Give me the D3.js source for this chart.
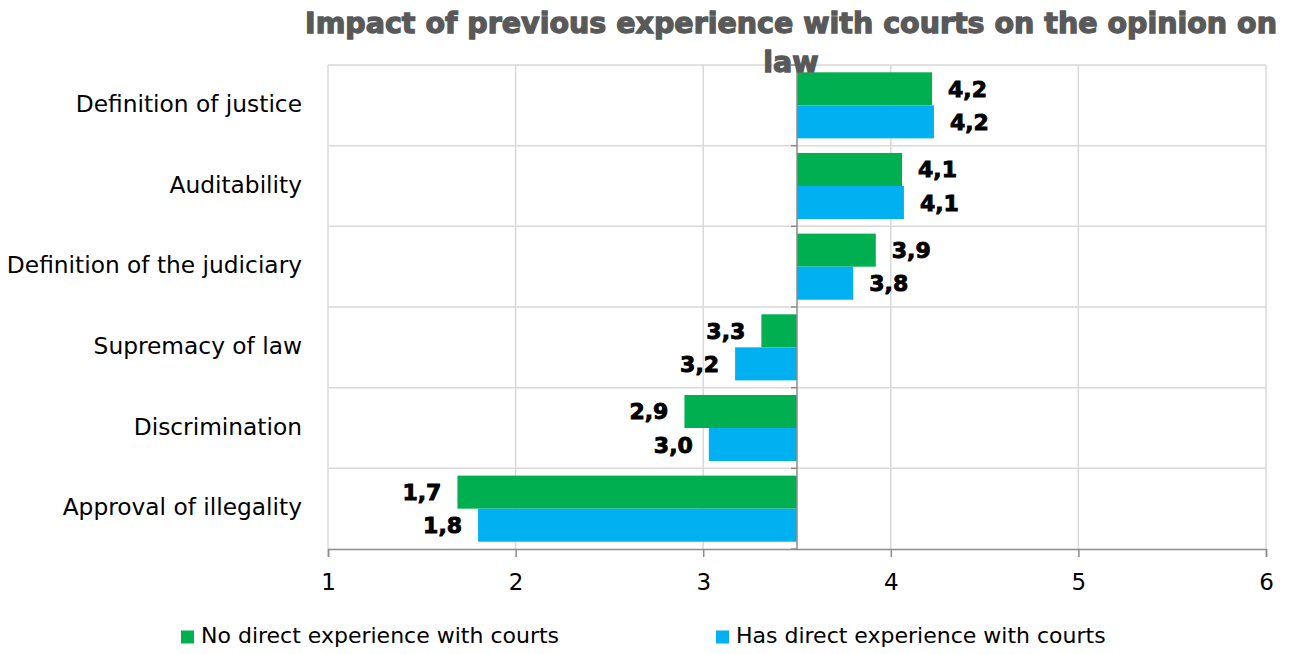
<!DOCTYPE html>
<html>
<head>
<meta charset="utf-8">
<script src="https://cdn.jsdelivr.net/npm/d3@7"></script>
<style>
  html, body { margin: 0; padding: 0; background: #ffffff; }
  svg { display: block; }
</style>
</head>
<body>
<svg id="chart" width="1296" height="654"></svg>
<script>
// Survey scores by topic, split by whether respondents had direct contact with courts
const categories = [
  "Definition of justice",
  "Auditability",
  "Definition of the judiciary",
  "Supremacy of law",
  "Discrimination",
  "Approval of illegality"
];
const seriesNames = ["No direct experience with courts", "Has direct experience with courts"];
const noExperience  = [4.22, 4.06, 3.92, 3.31, 2.90, 1.69];
const hasExperience = [4.23, 4.07, 3.80, 3.17, 3.03, 1.80];
const xTicks = [1, 2, 3, 4, 5, 6];
const baseline = 3.5;
const colors = ["#00B050", "#00B0F0"];
const titleLines = ["Impact of previous experience with courts on the opinion on", "law"];

const rows = categories.map((c, i) => ({
  category: c,
  values: [
    { key: seriesNames[0], value: noExperience[i] },
    { key: seriesNames[1], value: hasExperience[i] }
  ]
}));

const svg = d3.select("#chart");
const m = { left: 328, right: 1266, top: 65, bottom: 549 };

const x = d3.scaleLinear().domain([1, 6]).range([m.left, m.right]);
const y = d3.scaleBand().domain(categories).range([m.top, m.bottom]).padding(0);
const inner = 7.3;
const y1 = d3.scaleBand().domain(seriesNames).range([inner, y.bandwidth() - inner]).padding(0);
const color = d3.scaleOrdinal().domain(seriesNames).range(colors);

// Gridlines
const grid = svg.append("g").attr("class", "grid");
grid.selectAll("line.v").data(xTicks).join("line")
  .attr("class", "v")
  .attr("x1", d => x(d)).attr("x2", d => x(d))
  .attr("y1", m.top).attr("y2", m.bottom)
  .attr("stroke", "#d9d9d9").attr("stroke-width", 1.5);
const bounds = categories.map(c => y(c));
grid.selectAll("line.h").data(bounds).join("line")
  .attr("class", "h")
  .attr("x1", m.left).attr("x2", m.right)
  .attr("y1", d => d).attr("y2", d => d)
  .attr("stroke", "#d9d9d9").attr("stroke-width", 1.5);

// Bars diverging from the midpoint of the scale
const groups = svg.append("g").selectAll("g").data(rows).join("g")
  .attr("transform", d => `translate(0,${y(d.category)})`);

groups.selectAll("rect").data(d => d.values).join("rect")
  .attr("x", d => Math.min(x(d.value), x(baseline)))
  .attr("y", d => y1(d.key))
  .attr("width", d => Math.abs(x(d.value) - x(baseline)))
  .attr("height", y1.bandwidth())
  .attr("fill", d => color(d.key));

const fmt = v => d3.format(".1f")(v).replace(".", ",");
groups.selectAll("text.val").data(d => d.values).join("text")
  .attr("class", "val")
  .attr("x", d => d.value >= baseline ? x(d.value) + 16 : x(d.value) - 16)
  .attr("y", d => y1(d.key) + y1.bandwidth() / 2 + 2)
  .attr("text-anchor", d => d.value >= baseline ? "start" : "end")
  .attr("dominant-baseline", "middle")
  .attr("font-family", "DejaVu Sans")
  .attr("font-weight", "bold")
  .attr("font-size", 22)
  .attr("fill", "#000")
  .attr("stroke", "#000")
  .attr("stroke-width", 0.9)
  .text(d => fmt(d.value));

// Vertical axis through the midpoint, ticks at category boundaries
const axisColor = "#8c8c8c";
const yAxisG = svg.append("g");
yAxisG.append("line")
  .attr("x1", x(baseline)).attr("x2", x(baseline))
  .attr("y1", m.top).attr("y2", m.bottom)
  .attr("stroke", axisColor).attr("stroke-width", 1.5);
yAxisG.selectAll("line.t").data(bounds.concat([m.bottom])).join("line")
  .attr("class", "t")
  .attr("x1", x(baseline) - 6).attr("x2", x(baseline))
  .attr("y1", d => d).attr("y2", d => d)
  .attr("stroke", axisColor).attr("stroke-width", 1.5);

// Category labels
svg.append("g").selectAll("text").data(categories).join("text")
  .attr("x", 302)
  .attr("y", d => y(d) + y.bandwidth() / 2)
  .attr("text-anchor", "end")
  .attr("dominant-baseline", "middle")
  .attr("font-family", "DejaVu Sans")
  .attr("font-size", 23.3)
  .attr("fill", "#000")
  .text(d => d);

// Bottom axis
const xAxis = d3.axisBottom(x).tickValues(xTicks).tickSize(8).tickPadding(17).tickFormat(d3.format("d"));
const xAxisG = svg.append("g").attr("transform", `translate(0,${m.bottom})`).call(xAxis);
xAxisG.select(".domain").attr("stroke", axisColor).attr("stroke-width", 1.5);
xAxisG.selectAll(".tick line").attr("stroke", axisColor).attr("stroke-width", 1.5);
xAxisG.selectAll(".tick text")
  .attr("font-family", "DejaVu Sans")
  .attr("font-size", 23)
  .attr("fill", "#000");

// Legend
const legendItems = [
  { key: seriesNames[0], sx: 181 },
  { key: seriesNames[1], sx: 716 }
];
const lg = svg.append("g").selectAll("g").data(legendItems).join("g")
  .attr("transform", d => `translate(${d.sx},637)`);
lg.append("rect").attr("x", 0).attr("y", -6.5).attr("width", 13).attr("height", 13)
  .attr("fill", d => color(d.key));
lg.append("text").attr("x", 20).attr("y", 0)
  .attr("dominant-baseline", "middle")
  .attr("font-family", "DejaVu Sans")
  .attr("font-size", 22)
  .attr("fill", "#000")
  .text(d => d.key);

// Title, sized so the first line spans the width of the plot header
const titleG = svg.append("g");
const titleText = titleG.selectAll("text").data(titleLines).join("text")
  .attr("x", 791)
  .attr("y", (d, i) => 33 + i * 39)
  .attr("text-anchor", "middle")
  .attr("font-family", "DejaVu Sans")
  .attr("font-weight", "bold")
  .attr("font-size", 31)
  .attr("fill", "#595959")
  .attr("stroke", "#595959")
  .attr("stroke-width", 1.3)
  .text(d => d);
const firstLine = titleText.filter((d, i) => i === 0).node();
const w = firstLine.getComputedTextLength();
const fitSize = 31 * 972 / w;
titleText.attr("font-size", fitSize);
</script>
</body>
</html>
